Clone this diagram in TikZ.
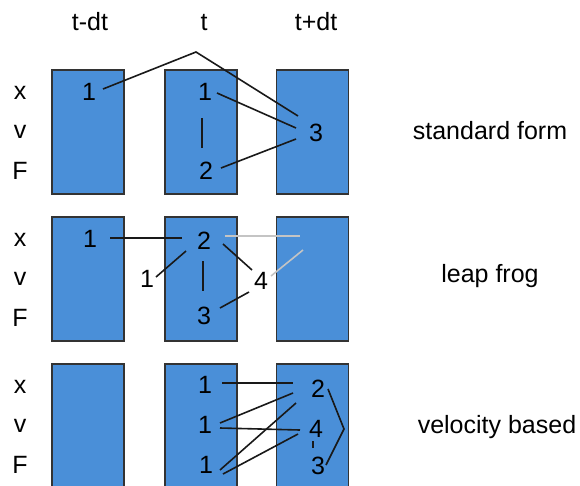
\documentclass[tikz,border=0pt]{standalone}
\usepackage{fontspec}
\setmainfont{Liberation Sans}
\definecolor{cellblue}{HTML}{4A8FD8}
\definecolor{cellline}{HTML}{333333}
\definecolor{ghostgray}{HTML}{C4C4C4}
\begin{document}
\begin{tikzpicture}[x=1pt,y=-1pt,
  cell/.style={draw=cellline, line width=1.6pt, fill=cellblue, inner sep=0pt,
    minimum width=72pt, minimum height=124pt},
  lbl/.style={anchor=base, inner sep=0pt, font=\fontsize{25}{29}\selectfont},
  link/.style={line width=1.6pt, draw=black!90},
  ghost/.style={line width=1.6pt, draw=ghostgray}]
\clip (0,0) rectangle (580,485);
% cells
\foreach \r/\cy in {1/132,2/279,3/426}{
  \node[cell] (c\r a) at (88,\cy) {};
  \node[cell] (c\r b) at (201,\cy) {};
  \node[cell] (c\r c) at (312.5,\cy) {};
}
% headers
\node[lbl] (htm) at (90,30) {t-dt};
\node[lbl] (ht) at (204,30) {t};
\node[lbl] (htp) at (316,30) {t+dt};
% row labels
\foreach \r/\b in {1/0,2/147,3/294}{
  \node[lbl] (x\r) at (20,99+\b) {x};
  \node[lbl] (v\r) at (20,138+\b) {v};
  \node[lbl] (F\r) at (20,179+\b) {F};
}
% method labels
\node[lbl] (m1) at (490,139) {standard form};
\node[lbl] (m2) at (490,282) {leap frog};
\node[lbl] (m3) at (497,433) {velocity based};

% ---------- row 1: standard form
\node[lbl] (s1a) at (89,100) {1};
\node[lbl] (s1b) at (205,100) {1};
\node[lbl] (s2b) at (206,179) {2};
\node[lbl] (s3c) at (316,141) {3};
\coordinate (sa) at (103,89);
\coordinate (sp) at (196,52);
\coordinate (sb) at (298,116);
\draw[link] (sa) -- (sp) -- (sb);
\coordinate (sc) at (217,93);
\coordinate (sd) at (296,128);
\draw[link] (sc) -- (sd);
\coordinate (se) at (221,168);
\coordinate (sf) at (296,139);
\draw[link] (se) -- (sf);
\coordinate (sg) at (202,118);
\coordinate (sh) at (202,148);
\draw[link] (sg) -- (sh);

% ---------- row 2: leap frog
\node[lbl] (l1a) at (90,247) {1};
\node[lbl] (l2b) at (204,249) {2};
\node[lbl] (l1o) at (147,287) {1};
\node[lbl] (l4) at (261,289) {4};
\node[lbl] (l3b) at (204,324) {3};
\coordinate (la) at (110,238);
\coordinate (lb) at (182,238);
\draw[link] (la) -- (lb);
\coordinate (lc) at (156,277);
\coordinate (ld) at (186,251);
\draw[link] (lc) -- (ld);
\coordinate (le) at (203,261);
\coordinate (lf) at (203,291);
\draw[link] (le) -- (lf);
\coordinate (lg) at (220,308);
\coordinate (lh) at (249,292);
\draw[link] (lg) -- (lh);
\coordinate (li) at (223,244);
\coordinate (lj) at (252,270);
\draw[link] (li) -- (lj);
\coordinate (lk) at (225,236);
\coordinate (ll) at (300,236);
\draw[ghost] (lk) -- (ll);
\coordinate (lm) at (271,276);
\coordinate (ln) at (303,250);
\draw[ghost] (lm) -- (ln);

% ---------- row 3: velocity based
\node[lbl] (b1x) at (205,393) {1};
\node[lbl] (b1v) at (205,433) {1};
\node[lbl] (b1F) at (206,473) {1};
\node[lbl] (b2) at (318,397) {2};
\node[lbl] (b4) at (316,437) {4};
\node[lbl] (b3) at (318,474) {3};
\coordinate (ba) at (222,383);
\coordinate (bb) at (293,383);
\draw[link] (ba) -- (bb);
\coordinate (bc) at (220,423);
\coordinate (bd) at (293,393);
\draw[link] (bc) -- (bd);
\coordinate (be) at (220,428);
\coordinate (bf) at (300,430);
\draw[link] (be) -- (bf);
\coordinate (bg) at (220,470);
\coordinate (bh) at (296,403);
\draw[link] (bg) -- (bh);
\coordinate (bi) at (223,474);
\coordinate (bj) at (298,434);
\draw[link] (bi) -- (bj);
\coordinate (bk) at (313,441);
\coordinate (bl) at (313,448);
\draw[link] (bk) -- (bl);
\coordinate (bm) at (328,389);
\coordinate (bn) at (344,429);
\coordinate (bo) at (326,465);
\draw[link] (bm) -- (bn) -- (bo);
\end{tikzpicture}
\end{document}
